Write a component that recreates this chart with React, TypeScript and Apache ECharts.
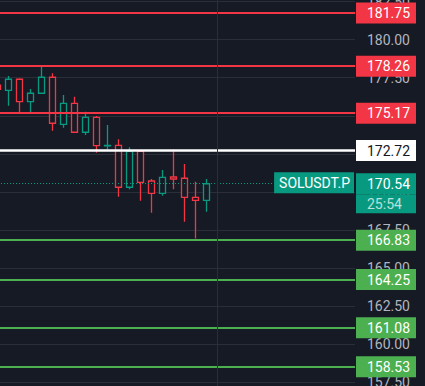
import React, { useEffect, useRef } from "react";
import * as echarts from "echarts";

// ---- data ----
const candleSlots = Array.from({ length: 33 }, (_, i) => `k${i}`);
const opens = [177.02, 176.67, 177.4, 175.93, 176.48, 177.53, 174.44, 175.82, 173.92, 174.9, 173.03, 173.06, 170.31, 172.67, 170.72, 169.91, 170.98, 170.9, 169.65, 169.45];
const closes = [176.74, 177.4, 175.93, 176.48, 177.53, 174.51, 175.82, 173.92, 174.9, 173.04, 173.06, 170.31, 172.67, 170.63, 169.91, 170.96, 170.85, 169.65, 169.45, 170.54];
const lows = [176.6, 175.66, 175.2, 175.16, 176.45, 174.02, 174.22, 173.9, 173.74, 172.58, 172.8, 169.69, 170.17, 169.43, 168.64, 169.75, 170.17, 168.05, 166.95, 168.7];
const highs = [177.15, 177.61, 177.46, 176.76, 178.28, 177.79, 176.37, 176.25, 175.27, 174.99, 174.4, 173.46, 172.93, 172.69, 170.85, 171.44, 172.8, 171.84, 170.67, 170.85];

const resistanceLevels = [181.75, 178.26, 175.17];
const pivotLevel = 172.72;
const supportLevels = [166.83, 164.25, 161.08, 158.53];
const currentPrice = 170.54;
const countdown = "25:54";
const symbolName = "SOLUSDT.P";
const yMin = 155;
const yMax = 185;
const yStep = 2.5;
const dividerSlot = "k20";

// ---- style ----
const BG = "#161a25";
const GRID = "#2a2e39";
const RED = "#f23645";
const GREEN = "#4caf50";
const TEAL = "#089981";
const FONT = "Roboto";

function levelLine(value: number, color: string, textColor: string, width = 2) {
  return {
    yAxis: value,
    lineStyle: { color, width, type: "solid" as const },
    label: {
      show: true,
      position: "end" as const,
      distance: 1,
      backgroundColor: color,
      padding: [3, 4, 3, 11],
      formatter: `{v|${value.toFixed(2)}}`,
      rich: {
        v: { width: 45, color: textColor, fontSize: 14, fontFamily: FONT, lineHeight: 15 },
      },
    },
  };
}

export default function App() {
  const ref = useRef<HTMLDivElement>(null);
  useEffect(() => {
    if (!ref.current) return;
    const chart = echarts.init(ref.current, undefined, { renderer: "svg" });
    const candles = opens.map((o, i) => [o, closes[i], lows[i], highs[i]]);
    const marks: any[] = [
      ...resistanceLevels.map((v) => levelLine(v, RED, "#ffffff")),
      levelLine(pivotLevel, "#ffffff", "#131722", 2.5),
      ...supportLevels.map((v) => levelLine(v, GREEN, "#ffffff")),
      {
        yAxis: currentPrice,
        lineStyle: { color: TEAL, width: 1, type: [1, 2] },
        label: {
          show: true,
          position: "end",
          distance: 1,
          verticalAlign: "middle",
          formatter: `{s| }\n{p|${currentPrice.toFixed(2)}}\n{t|${countdown}}`,
          rich: {
            s: { height: 19, lineHeight: 19, width: 10, color: "transparent" },
            p: {
              width: 45, height: 21, lineHeight: 21, padding: [0, 4, 0, 11],
              backgroundColor: TEAL, color: "#ffffff", fontSize: 14, fontFamily: FONT,
            },
            t: {
              width: 45, height: 19, lineHeight: 19, padding: [0, 4, 0, 11],
              backgroundColor: TEAL, color: "rgba(255,255,255,0.72)", fontSize: 14, fontFamily: FONT,
            },
          },
        },
      },
      {
        yAxis: currentPrice,
        lineStyle: { color: "rgba(0,0,0,0)", width: 1, type: "solid" },
        label: {
          show: true,
          position: "insideEndTop",
          distance: 1,
          verticalAlign: "middle",
          backgroundColor: TEAL,
          padding: [3, 4, 3, 5],
          color: "#ffffff",
          fontSize: 14,
          fontFamily: FONT,
          lineHeight: 15,
          formatter: symbolName,
        },
      },
      {
        xAxis: dividerSlot,
        lineStyle: { color: GRID, width: 1, type: "solid" },
        label: { show: false },
      },
    ];

    chart.setOption({
      animation: false,
      backgroundColor: BG,
      grid: {
        left: -8,
        right: 70,
        top: -36.5,
        height: 456.9,
        containLabel: false,
        outerBoundsMode: "none",
      },
      xAxis: {
        type: "category",
        data: candleSlots,
        boundaryGap: true,
        show: false,
      },
      yAxis: {
        type: "value",
        position: "right",
        min: yMin,
        max: yMax,
        interval: yStep,
        axisLine: { show: false },
        axisTick: { show: false },
        splitLine: { show: true, lineStyle: { color: GRID, width: 1 } },
        axisLabel: {
          align: "right",
          margin: 55,
          color: "#b2b5be",
          fontSize: 14,
          fontFamily: FONT,
          formatter: (v: number) => v.toFixed(2),
        },
      },
      series: [
        {
          type: "candlestick",
          data: candles,
          barWidth: 7,
          itemStyle: {
            color: BG,
            color0: BG,
            borderColor: TEAL,
            borderColor0: RED,
            borderWidth: 1.3,
          },
          markLine: {
            silent: true,
            symbol: ["none", "none"],
            animation: false,
            data: marks,
          },
        },
      ],
    });
    return () => chart.dispose();
  }, []);
  return (
    <div
      ref={ref}
      style={{ position: "fixed", left: 0, top: 0, width: 425, height: 386 }}
    />
  );
}
